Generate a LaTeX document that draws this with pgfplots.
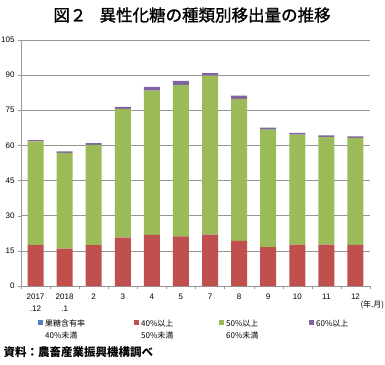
\documentclass[border=0pt]{standalone}
\usepackage{pgfplots}
\pgfplotsset{compat=1.18}
\usepackage{fontspec}
\setmainfont{Liberation Sans}
\newfontfamily\jp{Noto Sans CJK JP}
\newfontfamily\jpt[FakeBold=1.2]{Noto Sans CJK JP}
\definecolor{cBlue}{HTML}{4F81BD}
\definecolor{cRed}{HTML}{C0504D}
\definecolor{cGreen}{HTML}{9BBB59}
\definecolor{cPurple}{HTML}{8064A2}
\definecolor{cGrid}{RGB}{150,150,150}
\begin{document}
\begin{tikzpicture}
\useasboundingbox (-21pt,-78pt) rectangle (364pt,286pt);
\begin{axis}[
  scale only axis, width=349pt, height=246pt,
  at={(0,0)}, anchor=south west,
  ybar stacked, bar width=16pt,
  xmin=-0.5, xmax=11.5, ymin=0, ymax=105,
  ytick={0,15,...,105},
  xtick={0,...,11},
  xticklabels={2017\\.12,2018\\.1,2,3,4,5,7,8,9,10,11,12},
  xticklabel style={align=center, font=\fontsize{8}{12}\selectfont, yshift=-1pt},
  yticklabel style={font=\fontsize{8}{9}\selectfont},
  /pgf/number format/assume math mode=true,
  major x tick style={draw=none},
  minor xtick={-0.5,0.5,...,11.5},
  minor x tick style={cGrid},
  minor tick length=3pt,
  major tick length=3pt,
  tick align=outside,
  ymajorgrids, grid style={cGrid, line width=0.6pt},
  axis x line*=bottom, axis y line*=left,
  axis line style={cGrid, line width=0.8pt, -},
  y tick style={cGrid},
  legend columns=4,
  legend style={at={(0,0)}, anchor=north west, xshift=14pt, yshift=-30pt,
    draw=none, font=\fontsize{8}{12}\selectfont, column sep=0pt,
    /tikz/every even column/.append style={column sep=2pt}},
  legend cell align=left,
  legend image code/.code={\fill[#1] (0pt,-0.5pt) rectangle (5pt,4.5pt);},
]
\addplot[fill=cBlue, draw=none] coordinates {(0,0) (1,0) (2,0) (3,0) (4,0) (5,0) (6,0) (7,0) (8,0) (9,0) (10,0) (11,0)};
\addplot[fill=cRed, draw=none] coordinates {(0,17.5) (1,16.0) (2,17.4) (3,20.7) (4,21.8) (5,21.2) (6,21.9) (7,19.3) (8,16.6) (9,17.7) (10,17.7) (11,17.6)};
\addplot[fill=cGreen, draw=none] coordinates {(0,44.2) (1,40.8) (2,42.8) (3,54.9) (4,61.6) (5,64.6) (6,67.9) (7,60.6) (8,50.1) (9,46.9) (10,45.8) (11,45.6)};
\addplot[fill=cPurple, draw=none] coordinates {(0,0.6) (1,0.7) (2,0.8) (3,0.9) (4,1.6) (5,1.7) (6,1.1) (7,1.4) (8,0.9) (9,0.8) (10,0.8) (11,0.7)};
\addlegendentry{\parbox[t]{85pt}{\jp 果糖含有率\\40\%未満}}
\addlegendentry{\parbox[t]{74pt}{\jp 40\%以上\\50\%未満}}
\addlegendentry{\parbox[t]{79pt}{\jp 50\%以上\\60\%未満}}
\addlegendentry{\parbox[t]{50pt}{\jp 60\%以上}}
\end{axis}
\node[anchor=west, font=\fontsize{8}{9}\selectfont\jp] at (336pt,-19pt) {(年.月)};
\node[anchor=west, font=\fontsize{11.5}{12}\selectfont\jp\bfseries] at (-21pt,-66pt) {資料：農畜産業振興機構調べ};
\node[font=\fontsize{16.5}{18}\selectfont\jpt] at (171pt,271pt) {図２\hspace{0.8em}異性化糖の種類別移出量の推移};
\end{tikzpicture}
\end{document}
